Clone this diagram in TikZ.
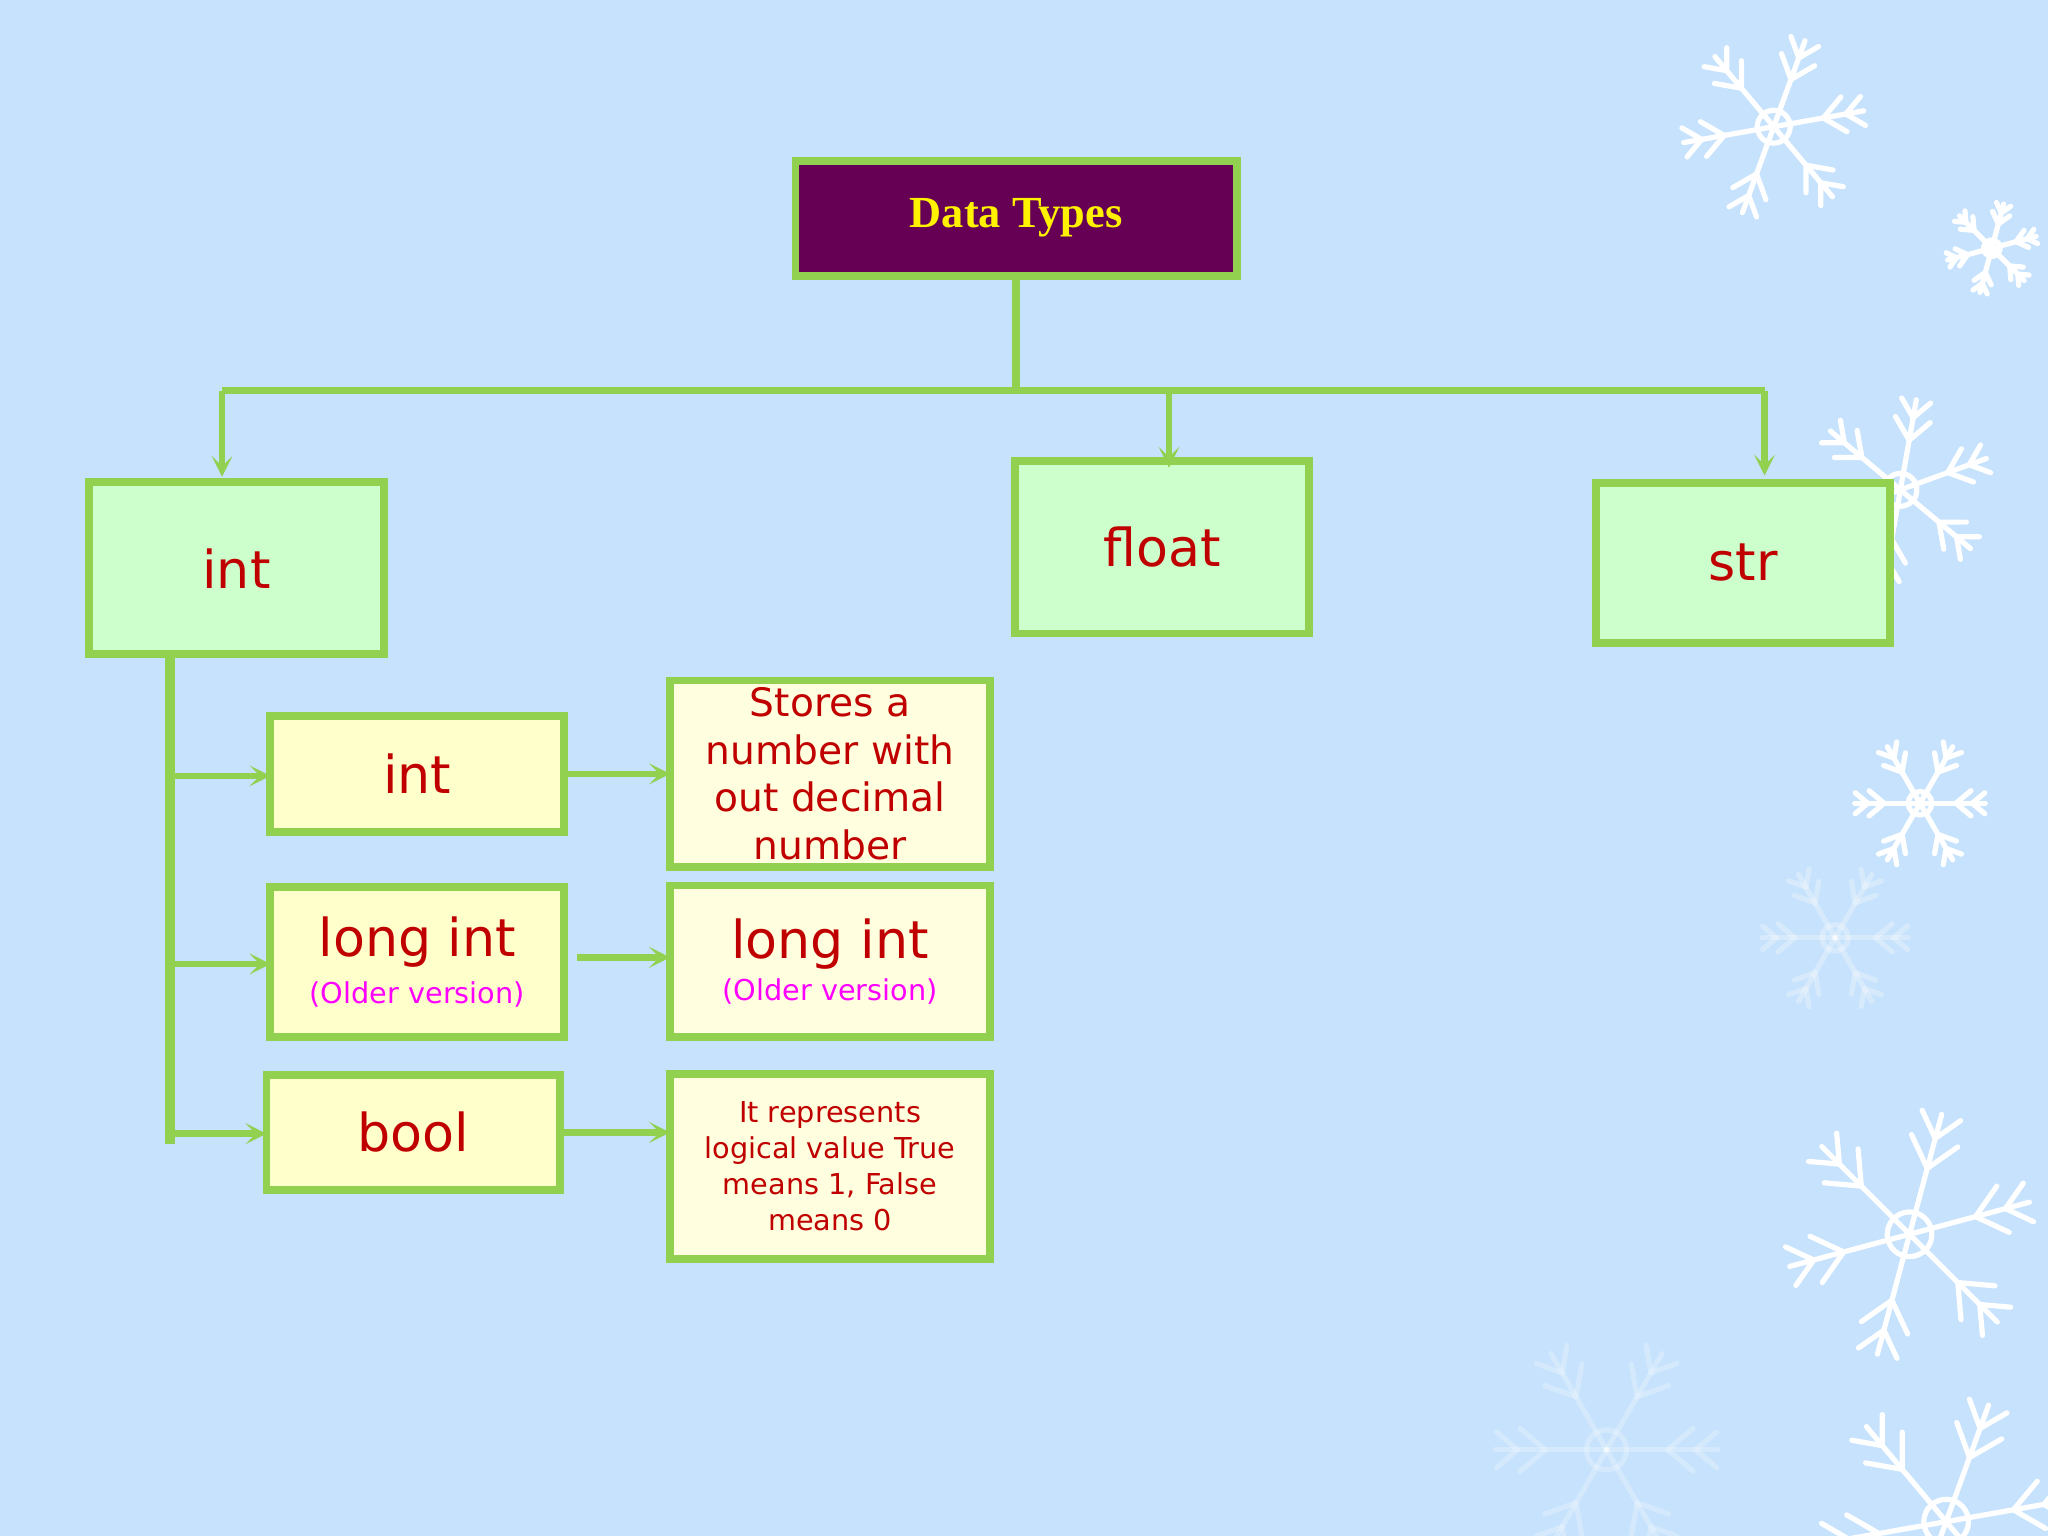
\documentclass[tikz,border=0pt]{standalone}
\usepackage{fontspec}
\setmainfont{DejaVu Sans}
\newfontfamily\titlefont{Liberation Serif}
\usetikzlibrary{arrows.meta}
\definecolor{bg}{HTML}{C6E2FC}
\definecolor{gr}{HTML}{92D050}
\definecolor{pur}{HTML}{660055}
\definecolor{txt}{HTML}{C00000}
\definecolor{mag}{HTML}{FF00FF}
\definecolor{lgreen}{HTML}{CCFFCC}
\definecolor{lyel}{HTML}{FFFFCC}
\definecolor{lyel2}{HTML}{FFFFE0}
\tikzset{
 box/.style={draw=gr,line width=6pt,inner sep=0pt,text=txt,align=center,anchor=north west,outer sep=0pt},
 conn/.style={draw=gr,line width=6pt},
 arr/.style={draw=gr,line width=5pt,-{Stealth[length=16pt,width=16pt,inset=8pt]}},
 flake/.pic={
  \foreach \a in {0,60,...,300}{
   \draw[rotate=\a] (0,0)--(1,0);
   \draw[rotate=\a] (0.55,0)--+(40:0.3) (0.55,0)--+(-40:0.3);
   \draw[rotate=\a] (0.8,0)--+(40:0.25) (0.8,0)--+(-40:0.25);}
  \draw (0,0) circle (0.18);}
}
\begin{document}
\begin{tikzpicture}[x=1pt,y=-1pt]
\useasboundingbox (0,0) rectangle (1568,1176);
\fill[bg] (0,0) rectangle (1568,1176);
\begin{scope}[draw=white,line width=4pt,line cap=round]
\pic[scale=70,rotate=10] at (1358,97) {flake};
\pic[scale=35,rotate=15] at (1525,190) {flake};
\pic[scale=70,rotate=20] at (1455,375) {flake};
\pic[scale=50] at (1470,615) {flake};
\pic[scale=56,draw opacity=0.3] at (1405,718) {flake};
\pic[scale=95,rotate=15] at (1462,945) {flake};
\pic[scale=95,rotate=10] at (1490,1165) {flake};
\pic[scale=85,draw opacity=0.25] at (1230,1110) {flake};
\end{scope}
\node[box,fill=pur,minimum width=338pt,minimum height=88pt,text=yellow,font=\titlefont\bfseries\fontsize{34}{38}\selectfont] (dt) at (609,123) {Data Types};
\node[box,fill=lgreen,minimum width=226pt,minimum height=132pt,font=\fontsize{40}{44}\selectfont] (int) at (68,369) {int};
\node[box,fill=lgreen,minimum width=225pt,minimum height=132pt,font=\fontsize{40}{44}\selectfont] (float) at (777,353) {float};
\node[box,fill=lgreen,minimum width=225pt,minimum height=122pt,font=\fontsize{40}{44}\selectfont] (str) at (1222,370) {str};
\node[box,fill=lyel,minimum width=225pt,minimum height=89pt,font=\fontsize{40}{44}\selectfont] (i2) at (207,548) {int};
\node[box,fill=lyel,minimum width=225pt,minimum height=115pt,font=\fontsize{40}{44}\selectfont] (li) at (207,679) {long int\\[-8pt]{\color{mag}\fontsize{22}{24}\selectfont(Older version)}};
\node[box,fill=lyel,minimum width=225pt,minimum height=88pt,font=\fontsize{40}{44}\selectfont] (bo) at (204,823) {bool};
\node[box,fill=lyel2,minimum width=245pt,minimum height=143pt,font=\fontsize{30}{36.5}\selectfont] (d1) at (513,521) {Stores a\\number with\\out decimal\\number};
\node[box,fill=lyel2,minimum width=245pt,minimum height=116pt,font=\fontsize{40}{44}\selectfont] (d2) at (513,678) {long int\\[-12pt]{\color{mag}\fontsize{22}{24}\selectfont(Older version)}};
\node[box,fill=lyel2,minimum width=245pt,minimum height=142pt,font=\fontsize{22}{27.5}\selectfont] (d3) at (513,822) {It represents\\logical value True\\means 1, False\\means 0};
\coordinate (hl) at (170,299);
\coordinate (hr) at (1351,299);
\coordinate (hm) at (895,299);
\draw[conn] (dt.south) -- (dt.south|-hl);
\draw[conn] (hl) -- (hr);
\draw[arr] (hl) -- (170,365);
\draw[arr] (hm) -- (895,358);
\draw[arr] (hr) -- (1351,364);
\coordinate (vb) at (130,876);
\draw[draw=gr,line width=8pt] (130,504) -- (vb);
\coordinate (b1) at (130,594);
\coordinate (b2) at (130,738);
\coordinate (b3) at (130,868);
\coordinate (c2) at (442,733);
\draw[arr] (b1) -- (i2.west|-b1);
\draw[arr] (b2) -- (li.west|-b2);
\draw[arr] (b3) -- (bo.west|-b3);
\draw[arr] (i2.east) -- (d1.west|-i2.east);
\draw[arr] (c2) -- (d2.west|-c2);
\draw[arr] (bo.east) -- (d3.west|-bo.east);
\end{tikzpicture}
\end{document}
